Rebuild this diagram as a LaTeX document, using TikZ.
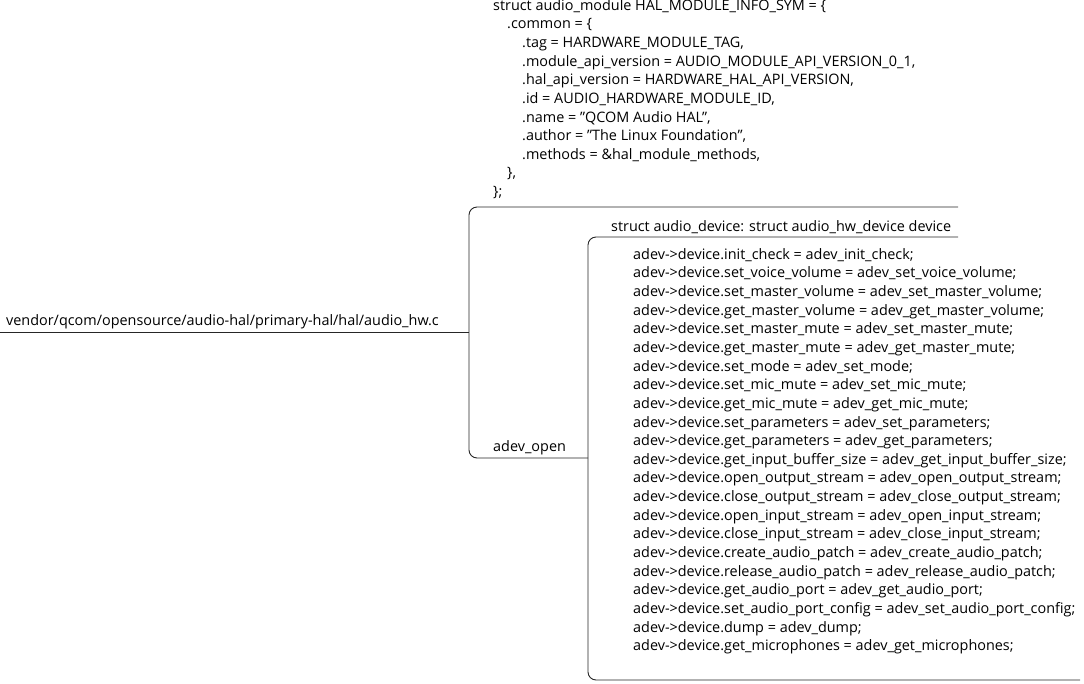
\documentclass[tikz,border=0pt]{standalone}
\usepackage{fontspec}
\setmainfont{Open Sans}
\begin{document}
\begin{tikzpicture}[x=1pt,y=-1pt,
  txt/.style={inner sep=0pt,anchor=north west,align=left,font=\fontsize{14.4}{18.65}\selectfont},
  br/.style={draw=black!85,line width=0.9pt,rounded corners=8pt}]
\useasboundingbox (0,0) rectangle (1084,683);
\node[txt] (top) at (493,-1) {struct audio\_module HAL\_MODULE\_INFO\_SYM = \{\\
\hspace*{14pt}.common = \{\\
\hspace*{29pt}.tag = HARDWARE\_MODULE\_TAG,\\
\hspace*{29pt}.module\_api\_version = AUDIO\_MODULE\_API\_VERSION\_0\_1,\\
\hspace*{29pt}.hal\_api\_version = HARDWARE\_HAL\_API\_VERSION,\\
\hspace*{29pt}.id = AUDIO\_HARDWARE\_MODULE\_ID,\\
\hspace*{29pt}.name = \symbol{34}QCOM Audio HAL\symbol{34},\\
\hspace*{29pt}.author = \symbol{34}The Linux Foundation\symbol{34},\\
\hspace*{29pt}.methods = \&hal\_module\_methods,\\
\hspace*{14pt}\},\\
\};};
\node[txt,anchor=west] (root) at (6,322) {vendor/qcom/opensource/audio-hal/primary-hal/hal/audio\_hw.c};
\node[txt,anchor=west] (open) at (493,448) {adev\_open};
\node[txt,anchor=west] (sad) at (611,227) {struct audio\_device: struct audio\_hw\_device device};
\node[txt] (list) at (633,248) {adev->device.init\_check = adev\_init\_check;\\
adev->device.set\_voice\_volume = adev\_set\_voice\_volume;\\
adev->device.set\_master\_volume = adev\_set\_master\_volume;\\
adev->device.get\_master\_volume = adev\_get\_master\_volume;\\
adev->device.set\_master\_mute = adev\_set\_master\_mute;\\
adev->device.get\_master\_mute = adev\_get\_master\_mute;\\
adev->device.set\_mode = adev\_set\_mode;\\
adev->device.set\_mic\_mute = adev\_set\_mic\_mute;\\
adev->device.get\_mic\_mute = adev\_get\_mic\_mute;\\
adev->device.set\_parameters = adev\_set\_parameters;\\
adev->device.get\_parameters = adev\_get\_parameters;\\
adev->device.get\_input\_buffer\_size = adev\_get\_input\_buffer\_size;\\
adev->device.open\_output\_stream = adev\_open\_output\_stream;\\
adev->device.close\_output\_stream = adev\_close\_output\_stream;\\
adev->device.open\_input\_stream = adev\_open\_input\_stream;\\
adev->device.close\_input\_stream = adev\_close\_input\_stream;\\
adev->device.create\_audio\_patch = adev\_create\_audio\_patch;\\
adev->device.release\_audio\_patch = adev\_release\_audio\_patch;\\
adev->device.get\_audio\_port = adev\_get\_audio\_port;\\
adev->device.set\_audio\_port\_config = adev\_set\_audio\_port\_config;\\
adev->device.dump = adev\_dump;\\
adev->device.get\_microphones = adev\_get\_microphones;};
\coordinate (r0) at (0,332);
\coordinate (j1) at (469,332);
\coordinate (t1) at (958,207);
\coordinate (o1) at (588,458);
\coordinate (s1) at (958,237);
\coordinate (l1) at (1080,680);
\draw[br] (r0) -- (j1);
\draw[br] (t1) -- (469,207) -- (469,458) -- (o1);
\draw[br] (s1) -- (588,237) -- (588,680) -- (l1);
\end{tikzpicture}
\end{document}
